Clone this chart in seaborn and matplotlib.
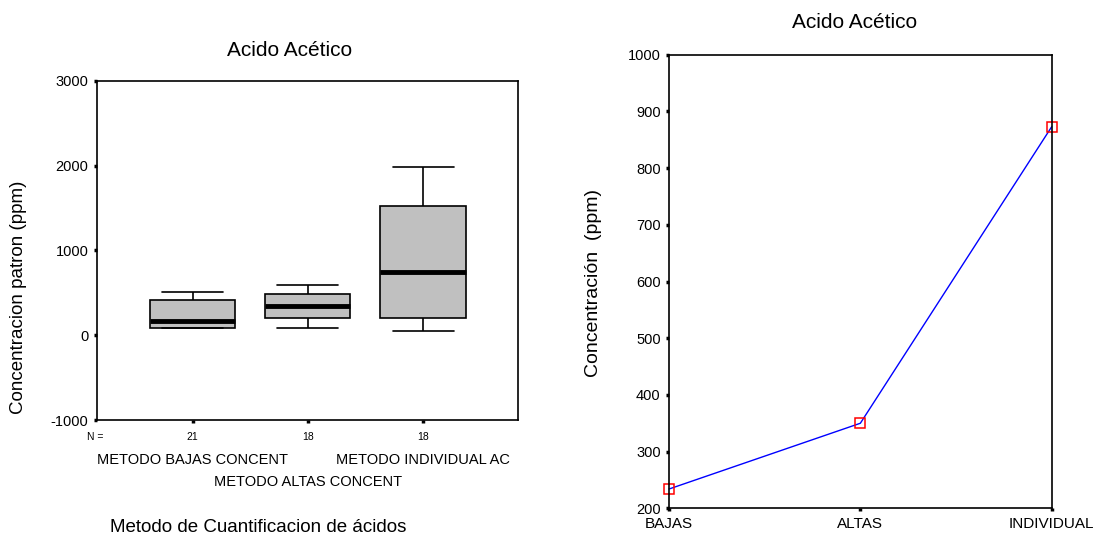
import pandas as pd
import matplotlib as mpl
import matplotlib.pyplot as plt
import seaborn as sns

# five-number summaries (min, q1, median, q3, max)
metodos = ["METODO BAJAS CONCENT", "METODO ALTAS CONCENT", "METODO INDIVIDUAL AC"]
bajas = [86, 86, 169, 412, 510]
altas = [86, 204, 345, 490, 588]
individual = [51, 204, 741, 1518, 1988]
n_casos = [21, 18, 18]

# mean concentration per method (right chart)
grupos = ["BAJAS", "ALTAS", "INDIVIDUAL"]
medias = [234, 350, 873]

sns.set_style("white")
plt.rcParams['font.family'] = ['Liberation Sans', 'DejaVu Sans']
mpl.rcParams['axes.unicode_minus'] = False
for k in ("text.color", "axes.labelcolor", "xtick.color", "ytick.color"):
    mpl.rcParams[k] = "black"

df = pd.DataFrame({
    "metodo": [metodos[0]] * len(bajas) + [metodos[1]] * len(altas) + [metodos[2]] * len(individual),
    "conc": bajas + altas + individual,
})

fig = plt.figure(figsize=(11.04, 5.4), dpi=100)
ax1 = fig.add_axes([96.7 / 1104, 1 - 420 / 540, 421.6 / 1104, 339.3 / 540])
ax2 = fig.add_axes([669 / 1104, 1 - 508.3 / 540, 382.7 / 1104, 453.6 / 540])

# --- left: boxplot ---
sns.boxplot(data=df, x="metodo", y="conc", order=metodos, ax=ax1,
            color="#c0c0c0", linecolor="black", linewidth=1.2, width=0.74,
            showfliers=False, saturation=1,
            medianprops={"linewidth": 3.5, "color": "black"})
for ln in ax1.lines:
    xs, ys = ln.get_xdata(), ln.get_ydata()
    if len(xs) == 2 and ys[0] == ys[1] and abs(abs(xs[1] - xs[0]) - 0.37) < 1e-6:
        c = (xs[0] + xs[1]) / 2
        ln.set_xdata([c - 0.265, c + 0.265])

ax1.set_xlim(-0.833, 2.827)
ax1.set_ylim(-1000, 3000)
ax1.set_yticks([-1000, 0, 1000, 2000, 3000])
ax1.set_xlabel("")
ax1.set_ylabel("")
ax1.set_xticks([0, 1, 2])
ax1.set_xticklabels([])
# staggered category labels (SPSS style) and case counts
for i, (m, n) in enumerate(zip(metodos, n_casos)):
    ax1.annotate(str(n), xy=(i, 0), xycoords=("data", "axes fraction"),
                 xytext=(0, -12), textcoords="offset points",
                 ha="center", va="center", fontsize=7.5)
    dy = -29 if i != 1 else -45
    ax1.annotate(m, xy=(i, 0), xycoords=("data", "axes fraction"),
                 xytext=(0, dy), textcoords="offset points",
                 ha="center", va="center", fontsize=10.5)
ax1.annotate("N =", xy=(-0.023, 0), xycoords="axes fraction",
             xytext=(0, -12), textcoords="offset points",
             ha="left", va="center", fontsize=7.5)

# --- right: means ---
sns.pointplot(x=grupos, y=medias, ax=ax2, errorbar=None, color="blue",
              markers="s", linewidth=1, markersize=7,
              markerfacecolor="none", markeredgecolor="red",
              markeredgewidth=1.1, clip_on=False)
ax2.set_xlim(0, 2)
ax2.set_ylim(200, 1000)
ax2.set_yticks(range(200, 1001, 100))
ax2.set_xlabel("")
ax2.set_ylabel("")
ax2.tick_params(axis="x", pad=4)

for ax in (ax1, ax2):
    for s in ax.spines.values():
        s.set_visible(True)
        s.set_color("black")
        s.set_linewidth(1.2)
    ax.tick_params(axis="both", which="major", direction="out", length=2.5,
                   width=2.5, color="black", labelsize=10.5, left=True, bottom=True)
    ax.grid(False)
ax2.tick_params(axis="x", labelsize=11)

fig.text(290 / 1104, 1 - 51 / 540, "Acido Acético", ha="center", va="center", fontsize=15)
fig.text(855 / 1104, 1 - 22 / 540, "Acido Acético", ha="center", va="center", fontsize=15)
fig.text(19 / 1104, 1 - 297 / 540, "Concentracion patron (ppm)", rotation=90,
         ha="center", va="center", fontsize=13.5)
fig.text(594 / 1104, 1 - 283 / 540, "Concentración  (ppm)", rotation=90,
         ha="center", va="center", fontsize=14)
fig.text(258 / 1104, 1 - 528 / 540, "Metodo de Cuantificacion de ácidos",
         ha="center", va="center", fontsize=13.5)

plt.savefig("out.png", dpi=100)
